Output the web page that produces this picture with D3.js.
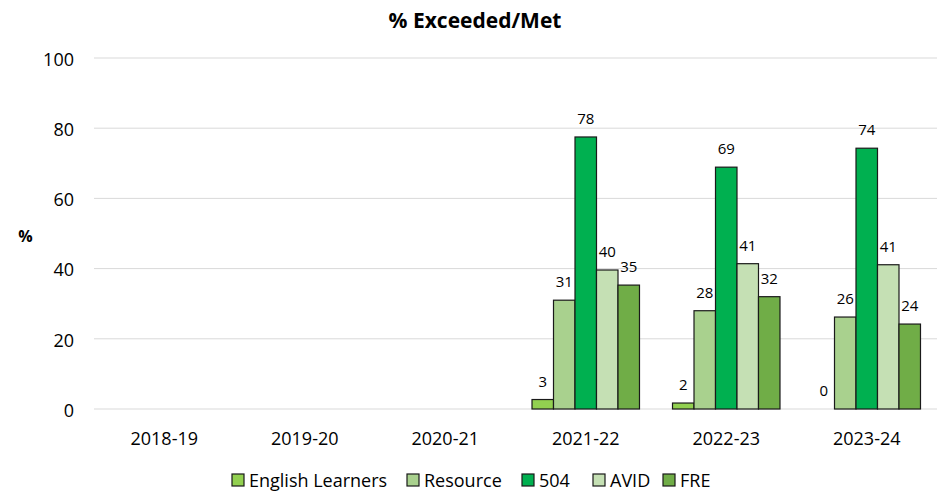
<!DOCTYPE html>
<html lang="en">
<head>
<meta charset="UTF-8">
<title>% Exceeded/Met</title>
<script src="https://d3js.org/d3.v7.min.js"></script>
<style>
    body { margin: 0; background: #fff; overflow: hidden; }
    svg { display: block; }
    svg text { font-family: "Open Sans", sans-serif; fill: #000; }
</style>
</head>
<body>
<div id="chart"></div>
<script>
    // data
    const years = ["2018-19", "2019-20", "2020-21", "2021-22", "2022-23", "2023-24"];
    const seriesNames = ["English Learners", "Resource", "504", "AVID", "FRE"];
    const seriesColors = ["#92D050", "#A9D18E", "#00B050", "#C5E0B4", "#70AD47"];
    const englishLearners = [null, null, null, 2.7, 1.7, 0];
    const resource = [null, null, null, 31, 28, 26.2];
    const s504 = [null, null, null, 77.5, 68.9, 74.3];
    const avid = [null, null, null, 39.6, 41.4, 41.1];
    const fre = [null, null, null, 35.3, 32, 24.2];
    const yTicks = [0, 20, 40, 60, 80, 100];

    const seriesValues = [englishLearners, resource, s504, avid, fre];

    const width = 950, height = 493;
    const margin = { top: 58, right: 13, bottom: 84, left: 94 };
    const innerWidth = width - margin.left - margin.right;
    const innerHeight = height - margin.top - margin.bottom;

    const svg = d3.select("#chart").append("svg")
        .attr("width", width)
        .attr("height", height);

    const g = svg.append("g")
        .attr("transform", `translate(${margin.left},${margin.top})`);

    const x = d3.scaleBand().domain(years).range([0, innerWidth]).paddingInner(0.235).paddingOuter(0.1175);
    const xs = d3.scaleBand().domain(seriesNames).range([0, x.bandwidth()]);
    const y = d3.scaleLinear().domain([0, 100]).range([innerHeight, 0]);

    // gridlines
    g.selectAll("line.grid")
        .data(yTicks)
        .join("line")
        .attr("class", "grid")
        .attr("x1", 0)
        .attr("x2", innerWidth)
        .attr("y1", d => y(d))
        .attr("y2", d => y(d))
        .attr("stroke", "#d9d9d9")
        .attr("stroke-width", 1);

    // y axis labels
    const yAxis = g.append("g")
        .call(d3.axisLeft(y).tickValues(yTicks).tickSize(0).tickPadding(20));
    yAxis.select(".domain").remove();
    yAxis.selectAll("text")
        .attr("font-size", 18)
        .attr("font-family", "'Open Sans', sans-serif")
        .attr("dy", "0.4em");

    // x axis labels
    const xAxis = g.append("g")
        .attr("transform", `translate(0,${innerHeight})`)
        .call(d3.axisBottom(x).tickSize(0).tickPadding(23));
    xAxis.select(".domain").remove();
    xAxis.selectAll("text")
        .attr("font-size", 18)
        .attr("font-family", "'Open Sans', sans-serif");

    // bars
    const rows = [];
    years.forEach((yr, i) => {
        seriesNames.forEach((s, j) => {
            const v = seriesValues[j][i];
            if (v !== null) rows.push({ year: yr, series: s, value: v, color: seriesColors[j] });
        });
    });

    g.selectAll("rect.bar")
        .data(rows)
        .join("rect")
        .attr("class", "bar")
        .attr("x", d => x(d.year) + xs(d.series))
        .attr("y", d => y(d.value))
        .attr("width", xs.bandwidth())
        .attr("height", d => y(0) - y(d.value))
        .attr("fill", d => d.color)
        .attr("stroke", d => d.value > 0 ? "#1a1a1a" : "none")
        .attr("stroke-width", 1.2);

    g.selectAll("text.val")
        .data(rows)
        .join("text")
        .attr("class", "val")
        .attr("x", d => x(d.year) + xs(d.series) + xs.bandwidth() / 2)
        .attr("y", d => y(d.value) - 13)
        .attr("text-anchor", "middle")
        .attr("font-size", 15)
        .text(d => Math.round(d.value));

    // title
    svg.append("text")
        .attr("x", 475)
        .attr("y", 28)
        .attr("text-anchor", "middle")
        .attr("font-size", 21)
        .attr("font-weight", "bold")
        .text("% Exceeded/Met");

    // y title
    svg.append("text")
        .attr("x", 25.5)
        .attr("y", 242)
        .attr("text-anchor", "middle")
        .attr("font-size", 16)
        .attr("font-weight", "bold")
        .text("%");

    // legend
    const legend = svg.append("g").attr("transform", "translate(232,474)");
    const legendOffsets = [0, 175, 290, 361, 431];
    const items = legend.selectAll("g")
        .data(seriesNames)
        .join("g")
        .attr("transform", (d, i) => `translate(${legendOffsets[i]},0)`);
    items.append("rect")
        .attr("width", 12)
        .attr("height", 12)
        .attr("fill", (d, i) => seriesColors[i])
        .attr("stroke", "#1a1a1a")
        .attr("stroke-width", 1.2);
    items.append("text")
        .attr("x", 17)
        .attr("y", 12.5)
        .attr("font-size", 18)
        .text(d => d);
</script>
</body>
</html>
